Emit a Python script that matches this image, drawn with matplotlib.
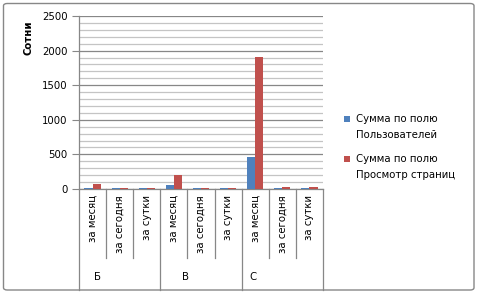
import matplotlib
matplotlib.use("Agg")
import matplotlib.pyplot as plt
from matplotlib.patches import FancyBboxPatch
import numpy as np

groups = ["Б", "В", "С"]
periods = ["за месяц", "за сегодня", "за сутки"]
users = [15, 12, 12, 58, 12, 12, 463, 14, 14]
views = [77, 12, 12, 203, 12, 12, 1914, 30, 30]
series_names = ["Сумма по полю\nПользователей", "Сумма по полю\nПросмотр страниц"]
y_label = "Сотни"

plt.rcParams['font.family'] = ['DejaVu Sans']
fs = 7.3
blue = "#4F81BD"
red = "#C0504D"
grid_major = "#878787"
grid_minor = "#C4C4C4"

fig = plt.figure(figsize=(4.78, 2.95), dpi=100)
W, H = 478, 295
ax = fig.add_axes([79 / W, 1 - 189 / H, (323 - 79) / W, (189 - 16) / H])

n = len(users)
x = np.arange(n)
bw = 0.3
ax.bar(x - bw / 2, users, bw, color=blue, zorder=3, label=series_names[0])
ax.bar(x + bw / 2, views, bw, color=red, zorder=3, label=series_names[1])

ax.set_xlim(-0.5, n - 0.5)
ax.set_ylim(0, 2500)
ax.set_yticks(np.arange(0, 2501, 500))
ax.set_yticks(np.arange(0, 2501, 100), minor=True)
ax.yaxis.grid(True, which="major", color=grid_major, lw=0.9, zorder=0)
ax.yaxis.grid(True, which="minor", color=grid_minor, lw=0.9, zorder=0)
ax.tick_params(axis="y", which="major", length=5, color=grid_major, labelsize=fs, pad=3)
ax.tick_params(axis="y", which="minor", length=0)
ax.set_xticks([])
for s in ["top", "right"]:
    ax.spines[s].set_visible(False)
for s in ["left", "bottom"]:
    ax.spines[s].set_color(grid_major)
    ax.spines[s].set_linewidth(0.9)

trans = ax.get_xaxis_transform()
# category labels
labels = periods * len(groups)
for i, lab in enumerate(labels):
    ax.text(i, -0.035, lab, rotation=90, ha="center", va="top", fontsize=fs,
            transform=trans, clip_on=False)
# dividers
for i in range(1, n):
    if i % 3 == 0:
        continue
    ax.plot([i - 0.5, i - 0.5], [0, -0.40], color=grid_major, lw=0.9,
            transform=trans, clip_on=False)
for g in range(len(groups) + 1):
    ax.plot([g * 3 - 0.5, g * 3 - 0.5], [0, -0.585], color=grid_major, lw=0.9,
            transform=trans, clip_on=False)
# group labels
gpos = [0.17, 3.43, 5.9]
for gx, gl in zip(gpos, groups):
    ax.text(gx, -0.51, gl, ha="center", va="center", fontsize=fs,
            transform=trans, clip_on=False)

fig.text(29 / W, 1 - 38 / H, y_label, rotation=90, ha="center", va="center",
         fontsize=fs, fontweight="bold")

# legend
leg_items = [(blue, series_names[0], 119), (red, series_names[1], 159)]
for col, txt, yp in leg_items:
    fig.patches.append(FancyBboxPatch((344 / W, 1 - (yp + 3) / H), 6 / W, 6 / H,
                                      boxstyle="square,pad=0", transform=fig.transFigure,
                                      facecolor=col, edgecolor="none"))
    fig.text(356 / W, 1 - (yp - 5) / H, txt, ha="left", va="top", fontsize=fs,
             linespacing=1.75)

# outer frame: pixel box x 3.5..474, y 3.5..290
fig.patches.append(FancyBboxPatch((3.5 / W, 1 - 290 / H), (474 - 3.5) / W, (290 - 3.5) / H,
                                  boxstyle="round,pad=0,rounding_size=0.008",
                                  transform=fig.transFigure, facecolor="none",
                                  edgecolor=grid_major, lw=1.0))

fig.savefig("out.png", dpi=100)
